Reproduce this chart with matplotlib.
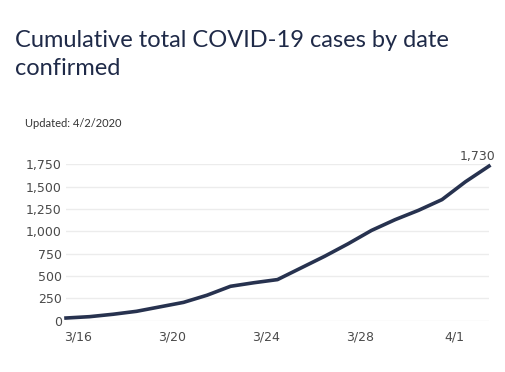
import matplotlib

matplotlib.use("Agg")
import matplotlib.pyplot as plt

# daily cumulative confirmed cases, 3/15 .. 4/2
dates = ["3/15", "3/16", "3/17", "3/18", "3/19", "3/20", "3/21", "3/22", "3/23", "3/24",
         "3/25", "3/26", "3/27", "3/28", "3/29", "3/30", "3/31", "4/1", "4/2"]
cases = [30, 45, 72, 105, 155, 205, 285, 385, 425, 460,
         590, 720, 860, 1010, 1130, 1235, 1355, 1555, 1730]
tick_dates = ["3/16", "3/20", "3/24", "3/28", "4/1"]
y_ticks = [0, 250, 500, 750, 1000, 1250, 1500, 1750]

W, H = 506, 372
fig = plt.figure(figsize=(W / 100, H / 100), dpi=100)
ax = fig.add_axes([66 / W, (H - 320.7) / H, 423 / W, 156.4 / H])

x = list(range(len(dates)))
ax.plot(x, cases, color="#27324f", lw=2.6, solid_joinstyle="round", clip_on=False, zorder=3)

ax.set_xlim(0, len(dates) - 1)
ax.set_ylim(0, 1750)
ax.set_yticks(y_ticks)
ax.set_yticklabels([f"{v:,}" for v in y_ticks])
# tick labels sit about half a day before the matching data point
ax.set_xticks([dates.index(d) - 0.47 for d in tick_dates])
ax.set_xticklabels(tick_dates)
ax.tick_params(axis="both", length=0, labelsize=9, labelcolor="#4a4a4a", labelfontfamily="DejaVu Sans")
ax.tick_params(axis="y", pad=3)
ax.tick_params(axis="x", pad=7)
ax.grid(axis="y", color="#ececec", lw=1)
ax.set_axisbelow(True)
for s in ax.spines.values():
    s.set_visible(False)

ax.annotate(f"{cases[-1]:,}", xy=(x[-1], cases[-1]), xytext=(-8, 2), textcoords="offset points",
            ha="center", va="bottom", fontsize=9, color="#4a4a4a", family="DejaVu Sans",
            annotation_clip=False)

fig.text(15 / W, 1 - 47 / H, "Cumulative total COVID-19 cases by date", fontsize=17,
         family="Lato", color="#1f2a48", va="baseline", ha="left")
fig.text(15 / W, 1 - 75 / H, "confirmed", fontsize=17,
         family="Lato", color="#1f2a48", va="baseline", ha="left")
fig.text(25 / W, 1 - 127 / H, "Updated: 4/2/2020", fontsize=8, family="Lato",
         color="#333333", va="baseline", ha="left")

fig.savefig("out.png", dpi=100, facecolor="white")
